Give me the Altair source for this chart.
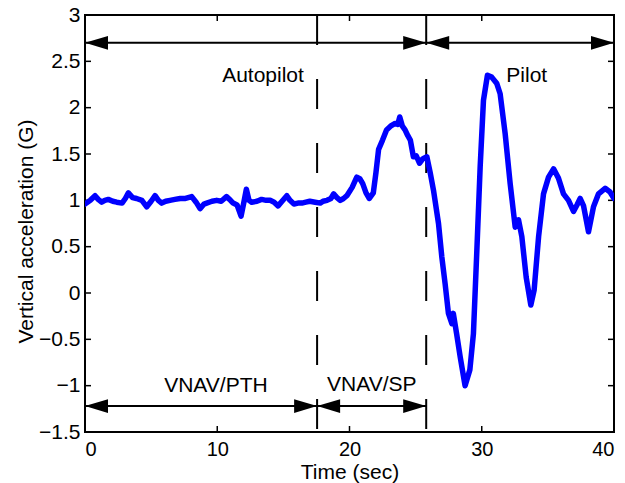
import altair as alt
import pandas as pd

# ---- data ----
time_s = [0, 0.4, 0.76, 1.0, 1.26, 1.5, 1.76, 2.1, 2.4, 2.8, 3.05, 3.28, 3.6, 3.9, 4.3, 4.67,
          5.0, 5.3, 5.55, 5.8, 6.1, 6.43, 6.8, 7.2, 7.6, 8.07, 8.4, 8.7, 9.0, 9.2, 9.6, 9.96,
          10.3, 10.7, 11.0, 11.2, 11.5, 11.8, 12.0, 12.2, 12.4, 12.6, 13.0, 13.35, 13.7, 14.0,
          14.3, 14.6, 14.9, 15.26, 15.5, 15.8, 16.1, 16.4, 16.7, 17.0, 17.4, 17.8, 18.0, 18.3,
          18.6, 18.8, 19.05, 19.3, 19.55, 19.8, 20.2, 20.55, 20.8, 21.0, 21.25, 21.5, 21.8,
          22.0, 22.2, 22.5, 22.8, 23.1, 23.45, 23.65, 23.8, 24.0, 24.2, 24.4, 24.6, 24.83,
          25.05, 25.3, 25.55, 25.85, 26.1, 26.35, 26.73, 26.98, 27.23, 27.48, 27.74, 27.85,
          28.1, 28.37, 28.74, 29.1, 29.37, 29.63, 29.88, 30.13, 30.43, 30.75, 31.14, 31.39,
          31.77, 32.15, 32.53, 32.78, 33.03, 33.36, 33.71, 33.96, 34.3, 34.67, 35.05, 35.43,
          35.8, 36.18, 36.56, 36.94, 37.2, 37.44, 37.7, 38.07, 38.45, 38.83, 39.33, 39.7, 40]
accel_g = [0.96, 1.0, 1.05, 1.01, 0.98, 1.0, 1.01, 0.99, 0.98, 0.97, 1.02, 1.08, 1.03, 1.02, 1.0, 0.93,
           0.99, 1.05, 1.0, 0.97, 0.99, 1.0, 1.01, 1.02, 1.02, 1.04, 0.98, 0.91, 0.96, 0.97, 0.99, 1.0,
           0.99, 1.04, 1.0, 0.97, 0.95, 0.83, 0.97, 1.12, 1.0, 0.98, 0.99, 1.01, 1.0, 1.0,
           0.98, 0.94, 0.99, 1.05, 1.0, 0.96, 0.97, 0.97, 0.98, 0.99, 0.98, 0.97, 0.99, 1.0,
           1.02, 1.07, 1.03, 1.0, 1.02, 1.05, 1.14, 1.25, 1.23, 1.18, 1.08, 1.02, 1.08,
           1.3, 1.55, 1.65, 1.76, 1.80, 1.83, 1.82, 1.90, 1.80, 1.76, 1.70, 1.65, 1.47,
           1.48, 1.40, 1.45, 1.47, 1.30, 1.11, 0.75, 0.39, 0.10, -0.22, -0.33, -0.22,
           -0.44, -0.69, -1.0, -0.83, -0.44, 0.46, 1.36, 2.08, 2.35, 2.33, 2.26, 2.15,
           1.72, 1.18, 0.71, 0.79, 0.61, 0.17, -0.13, 0.03, 0.61, 1.07, 1.25, 1.34,
           1.24, 1.07, 1.0, 0.88, 0.95, 1.02, 0.94, 0.66, 0.93, 1.07, 1.13, 1.09, 1.02]

mode_changes = [17.55, 25.8]

arrow_start = [0, 25.8, 0, 17.55]
arrow_end = [25.8, 40, 17.55, 25.8]
arrow_level = [2.7, 2.7, -1.22, -1.22]

label_text = ["Autopilot", "Pilot", "VNAV/PTH", "VNAV/SP"]
label_x = [13.46, 33.4, 9.9, 21.69]
label_y = [2.28, 2.28, -1.07, -1.06]

x_ticks = [0, 10, 20, 30, 40]
y_ticks = [-1.5, -1, -0.5, 0, 0.5, 1, 1.5, 2, 2.5, 3]

# ---- tables ----
W, H = 529, 417
FONT = "Liberation Sans"

df_line = pd.DataFrame({"t": time_s, "g": accel_g, "i": range(len(time_s))})
df_v = pd.DataFrame({"t": mode_changes, "top": 3.0, "bot": -1.5})
df_arr = pd.DataFrame({"x1": arrow_start, "x2": arrow_end, "y": arrow_level})
df_left = pd.DataFrame({"x": arrow_start, "y": arrow_level})
df_right = pd.DataFrame({"x": arrow_end, "y": arrow_level})
df_txt = pd.DataFrame({"label": label_text, "x": label_x, "y": label_y})
df_xt = pd.DataFrame({"v": x_ticks})
df_yt = pd.DataFrame({"v": y_ticks})

xscale = alt.Scale(domain=[0, 40], nice=False, zero=False)
yscale = alt.Scale(domain=[-1.5, 3], nice=False, zero=False)

xaxis = alt.Axis(values=x_ticks, format="d", title="Time (sec)", grid=False, domain=False,
                 ticks=False, tickSize=0, labelFontSize=20, labelFont=FONT, labelColor="black",
                 labelBaseline="alphabetic", labelPadding=23,
                 titleFontSize=21, titleFont=FONT, titleFontWeight="normal", titleColor="black",
                 titleX=W / 2, titleY=46, titleBaseline="alphabetic", titleAlign="center")
yaxis = alt.Axis(values=y_ticks, format="~g", title="Vertical acceleration (G)", grid=False,
                 domain=False, ticks=False, tickSize=0, labelFontSize=21, labelFont=FONT,
                 labelColor="black", labelPadding=5,
                 titleFontSize=21, titleFont=FONT, titleFontWeight="normal", titleColor="black",
                 titleX=-52.5, titleY=216, titleAngle=270, titleBaseline="alphabetic",
                 titleAlign="center")

line = alt.Chart(df_line).mark_line(color="#0000ff", strokeWidth=5.5, strokeJoin="round",
                                    strokeCap="round", clip=True).encode(
    x=alt.X("t:Q", scale=xscale, axis=xaxis),
    y=alt.Y("g:Q", scale=yscale, axis=yaxis),
    order="i:Q",
)

vlines = alt.Chart(df_v).mark_rule(color="black", strokeWidth=2, strokeDash=[30, 34]).encode(
    x="t:Q", y="top:Q", y2="bot:Q"
)

arrows = alt.Chart(df_arr).mark_rule(color="black", strokeWidth=2).encode(
    x="x1:Q", x2="x2:Q", y="y:Q"
)

left_head = alt.Chart(df_left).mark_point(
    shape="M0,0 L2,-0.6 L2,0.6 Z", filled=True, size=529, color="black", opacity=1, strokeWidth=0
).encode(x="x:Q", y="y:Q")

right_head = alt.Chart(df_right).mark_point(
    shape="M0,0 L-2,-0.6 L-2,0.6 Z", filled=True, size=529, color="black", opacity=1, strokeWidth=0
).encode(x="x:Q", y="y:Q")

texts = alt.Chart(df_txt).mark_text(font=FONT, fontSize=21, color="black", align="center",
                                    baseline="alphabetic").encode(
    x="x:Q", y="y:Q", text="label:N"
)

xt_bot = alt.Chart(df_xt).mark_rule(color="black", strokeWidth=1.5).encode(
    x="v:Q", y=alt.value(H), y2=alt.value(H - 6))
xt_top = alt.Chart(df_xt).mark_rule(color="black", strokeWidth=1.5).encode(
    x="v:Q", y=alt.value(0), y2=alt.value(6))
yt_left = alt.Chart(df_yt).mark_rule(color="black", strokeWidth=1.5).encode(
    y="v:Q", x=alt.value(0), x2=alt.value(6))
yt_right = alt.Chart(df_yt).mark_rule(color="black", strokeWidth=1.5).encode(
    y="v:Q", x=alt.value(W), x2=alt.value(W - 6))

chart = alt.layer(
    xt_bot, xt_top, yt_left, yt_right, vlines, arrows, left_head, right_head, texts, line
).properties(
    width=W, height=H,
    autosize=alt.AutoSizeParams(type="none"),
    padding={"left": 85, "top": 15, "right": 11, "bottom": 51},
    background="white",
).configure_view(stroke="black", strokeWidth=2)

chart.save("out.html", embed_options={"renderer": "svg", "actions": False})
